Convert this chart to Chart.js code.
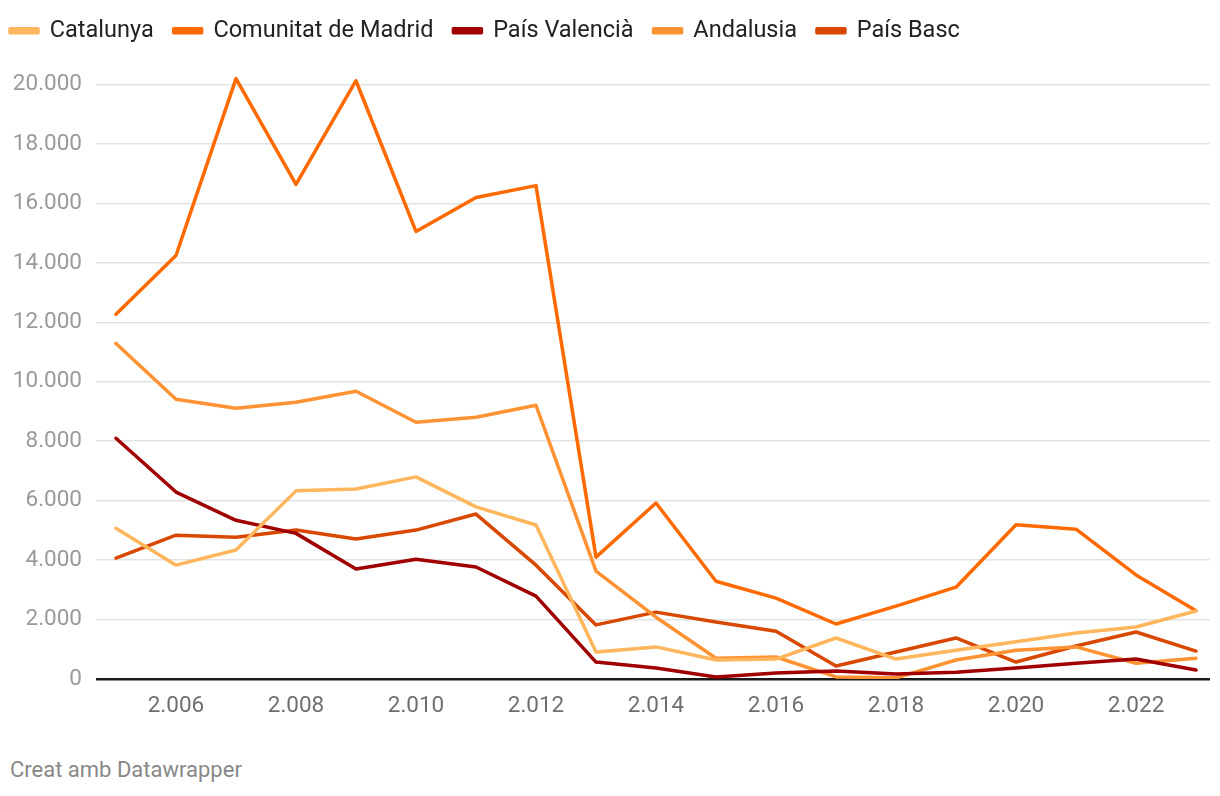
<!DOCTYPE html>
<html>
<head>
<meta charset="utf-8">
<script src="https://cdn.jsdelivr.net/npm/chart.js@4"></script>
<style>
  body { margin: 0; background: #fff; font-family: Roboto, sans-serif; }
  #wrap { position: absolute; left: 0; top: 0; width: 1220px; height: 735px; }
  #credit { position: absolute; left: 10px; top: 757px; font-size: 22px; color: #888; }
</style>
</head>
<body>
<div id="wrap"><canvas id="chart"></canvas></div>
<div id="credit">Creat amb Datawrapper</div>
<script>
const years = [2005, 2006, 2007, 2008, 2009, 2010, 2011, 2012, 2013, 2014,
               2015, 2016, 2017, 2018, 2019, 2020, 2021, 2022, 2023];

const catalunya = [5070, 3830, 4340, 6330, 6390, 6800, 5790, 5180, 910, 1080,
                   640, 670, 1380, 670, 970, 1250, 1550, 1750, 2290];
const madrid = [12270, 14250, 20200, 16640, 20130, 15060, 16200, 16600, 4100, 5920,
                3290, 2720, 1850, 2450, 3090, 5190, 5040, 3500, 2300];
const valencia = [8100, 6290, 5340, 4900, 3700, 4030, 3770, 2790, 570, 370,
                  70, 200, 270, 170, 230, 370, 530, 670, 300];
const andalusia = [11290, 9410, 9110, 9310, 9680, 8640, 8810, 9210, 3630, 2080,
                   700, 740, 70, 40, 640, 970, 1080, 530, 700];
const paisBasc = [4070, 4840, 4770, 5010, 4710, 5010, 5550, 3830, 1820, 2250,
                  1920, 1610, 440, 910, 1380, 570, 1110, 1580, 940];

const xTicks = [2006, 2008, 2010, 2012, 2014, 2016, 2018, 2020, 2022];
const yTicks = [0, 2000, 4000, 6000, 8000, 10000, 12000, 14000, 16000, 18000, 20000];

function fmt(v) {
    return String(Math.round(v)).replace(/\B(?=(\d{3})+(?!\d))/g, '.');
}

function series(label, values, color) {
    return {
        label: label,
        data: years.map((y, i) => ({ x: y, y: values[i] })),
        borderColor: color,
        backgroundColor: color,
        borderWidth: 3.5,
        pointRadius: 0,
        tension: 0,
        borderJoinStyle: 'round',
        borderCapStyle: 'round'
    };
}

new Chart(document.getElementById('chart'), {
    type: 'line',
    data: {
        datasets: [
            series('Catalunya', catalunya, '#ffb65c'),
            series('Comunitat de Madrid', madrid, '#ff6a00'),
            series('País Valencià', valencia, '#a10000'),
            series('Andalusia', andalusia, '#ff9232'),
            series('País Basc', paisBasc, '#d84800')
        ]
    },
    options: {
        responsive: true,
        maintainAspectRatio: false,
        animation: false,
        layout: { padding: { top: -1, left: -10, right: 10, bottom: 0 } },
        plugins: {
            tooltip: { enabled: false },
            legend: {
                align: 'start',
                labels: {
                    boxWidth: 28,
                    boxHeight: 4,
                    padding: 20,
                    color: '#222',
                    font: { family: 'Roboto', size: 23.5 }
                }
            }
        },
        scales: {
            x: {
                type: 'linear',
                min: 2004.667,
                max: 2023.233,
                afterBuildTicks: s => { s.ticks = xTicks.map(v => ({ value: v })); },
                afterFit: s => { s.height = 56; },
                grid: { display: false, drawTicks: false },
                border: { display: false },
                ticks: {
                    padding: 14,
                    color: '#6f6f6f',
                    font: { family: 'Roboto', size: 22.5 },
                    callback: v => fmt(v)
                }
            },
            y: {
                min: 0,
                max: 21080,
                afterBuildTicks: s => { s.ticks = yTicks.map(v => ({ value: v })); },
                afterFit: s => { s.width = 106; },
                border: { display: false },
                grid: {
                    drawTicks: false,
                    color: ctx => ctx.tick && ctx.tick.value === 0 ? '#1a1a1a' : '#e3e3e3',
                    lineWidth: ctx => ctx.tick && ctx.tick.value === 0 ? 2.5 : 1.5
                },
                ticks: {
                    padding: 14,
                    color: '#9a9a9a',
                    font: { family: 'Roboto', size: 22.5 },
                    callback: v => fmt(v)
                }
            }
        }
    }
});
</script>
</body>
</html>
